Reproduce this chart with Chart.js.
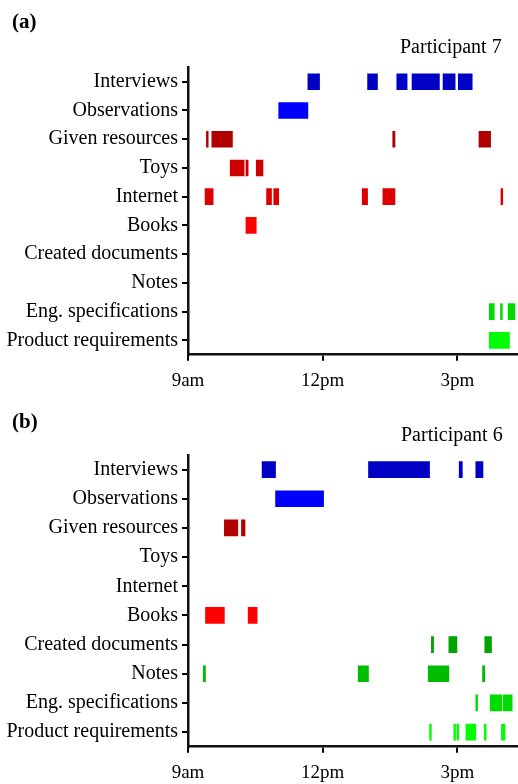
<!DOCTYPE html>
<html><head><meta charset="utf-8">
<script src="https://cdn.jsdelivr.net/npm/chart.js@4/dist/chart.umd.min.js"></script>
<style>
html,body{margin:0;padding:0;background:#fff;width:518px;height:784px;overflow:hidden;}
.panel{position:absolute;left:0;width:518px;height:392px;}
.lab{position:absolute;font-family:'Liberation Serif','Times New Roman',serif;color:#000;white-space:nowrap;line-height:1;}
</style></head><body>
<div class="panel" style="top:0"><canvas id="ca" width="518" height="392"></canvas></div>
<div class="panel" style="top:392px"><canvas id="cb" width="518" height="392"></canvas></div>
<div class="lab" style="left:12px;top:11px;font-size:21px;font-weight:bold">(a)</div>
<div class="lab" style="left:400px;top:36px;font-size:20px">Participant 7</div>
<div class="lab" style="left:12px;top:411px;font-size:21px;font-weight:bold">(b)</div>
<div class="lab" style="left:401px;top:424px;font-size:20px">Participant 6</div>
<script>
const categories = ['Interviews','Observations','Given resources','Toys','Internet','Books','Created documents','Notes','Eng. specifications','Product requirements'];
const categoryColors = ['#0000c4','#0000ff','#b00000','#cc0000','#dd0000','#ff0000','#00a400','#00bc00','#00dc00','#00ff00'];
const tickValues = [9, 12, 15];
const tickLabels = ['9am', '12pm', '3pm'];
const timeMin = 9;
const timeMax = 16.35;

// Participant 7 (hours of day, start/end)
const p7Interviews = [[11.67,11.93],[13.0,13.22],[13.65,13.88],[13.99,14.6],[14.68,14.95],[15.02,15.33]];
const p7Observations = [[11.02,11.67]];
const p7GivenResources = [[9.41,9.45],[9.53,9.99],[13.56,13.61],[15.48,15.74]];
const p7Toys = [[9.94,10.25],[10.29,10.34],[10.52,10.67]];
const p7Internet = [[9.38,9.56],[10.75,10.86],[10.91,11.02],[12.88,13.0],[13.34,13.61],[15.97,16.01]];
const p7Books = [[10.29,10.52]];
const p7CreatedDocuments = [];
const p7Notes = [];
const p7EngSpecifications = [[15.71,15.82],[15.96,16.0],[16.13,16.28]];
const p7ProductRequirements = [[15.71,16.16]];

// Participant 6
const p6Interviews = [[10.65,10.95],[13.02,14.38],[15.04,15.11],[15.41,15.57]];
const p6Observations = [[10.95,12.02]];
const p6GivenResources = [[9.81,10.11],[10.19,10.27]];
const p6Toys = [];
const p6Internet = [];
const p6Books = [[9.39,9.81],[10.34,10.54]];
const p6CreatedDocuments = [[14.42,14.47],[14.81,14.99],[15.61,15.76]];
const p6Notes = [[9.34,9.39],[12.79,13.02],[14.35,14.81],[15.56,15.61]];
const p6EngSpecifications = [[15.41,15.45],[15.73,15.99],[16.02,16.22]];
const p6ProductRequirements = [[14.38,14.42],[14.92,14.96],[14.99,15.03],[15.19,15.41],[15.6,15.64],[15.98,16.06]];

const p7Rows = [p7Interviews,p7Observations,p7GivenResources,p7Toys,p7Internet,p7Books,p7CreatedDocuments,p7Notes,p7EngSpecifications,p7ProductRequirements];
const p6Rows = [p6Interviews,p6Observations,p6GivenResources,p6Toys,p6Internet,p6Books,p6CreatedDocuments,p6Notes,p6EngSpecifications,p6ProductRequirements];

const FONT = "'Liberation Serif','Times New Roman',serif";

function buildDatasets(rows){
  const maxN = Math.max(...rows.map(r => r.length));
  const ds = [];
  for (let k = 0; k < maxN; k++) {
    ds.push({
      data: rows.map(r => r[k] ? r[k] : null),
      backgroundColor: categoryColors,
      borderWidth: 0,
      barThickness: 16,
      grouped: false
    });
  }
  return ds;
}

function makeChart(id, rows, top, bottom){
  const H = 392;
  return new Chart(document.getElementById(id), {
    type: 'bar',
    data: { labels: categories, datasets: buildDatasets(rows) },
    options: {
      indexAxis: 'y',
      responsive: false,
      animation: false,
      devicePixelRatio: 1,
      layout: { padding: { top: top, left: 0, right: 0, bottom: 0 } },
      plugins: { legend: { display: false }, tooltip: { enabled: false }, title: { display: false } },
      scales: {
        x: {
          type: 'linear',
          min: timeMin,
          max: timeMax,
          afterBuildTicks: (s) => { s.ticks = tickValues.map(v => ({ value: v })); },
          afterFit: (s) => { s.height = H - bottom; },
          ticks: {
            autoSkip: false,
            maxRotation: 0,
            padding: 9,
            color: '#000',
            font: { family: FONT, size: 19 },
            callback: (v) => { const i = tickValues.indexOf(v); return i >= 0 ? tickLabels[i] : ''; }
          },
          grid: { drawOnChartArea: false, drawTicks: true, tickLength: 6, color: '#000', lineWidth: 2 },
          border: { display: true, color: '#111', width: 2.5 }
        },
        y: {
          type: 'category',
          offset: true,
          afterFit: (s) => { s.width = 188; },
          ticks: {
            autoSkip: false,
            padding: 4,
            color: '#000',
            font: { family: FONT, size: 20 }
          },
          grid: { drawOnChartArea: false, drawTicks: true, tickLength: 6, color: '#000', lineWidth: 2, offset: false },
          border: { display: true, color: '#111', width: 2.5 }
        }
      }
    }
  });
}

makeChart('ca', p7Rows, 67.4, 354.7);
makeChart('cb', p6Rows, 63, 354.7);
</script>
</body></html>
